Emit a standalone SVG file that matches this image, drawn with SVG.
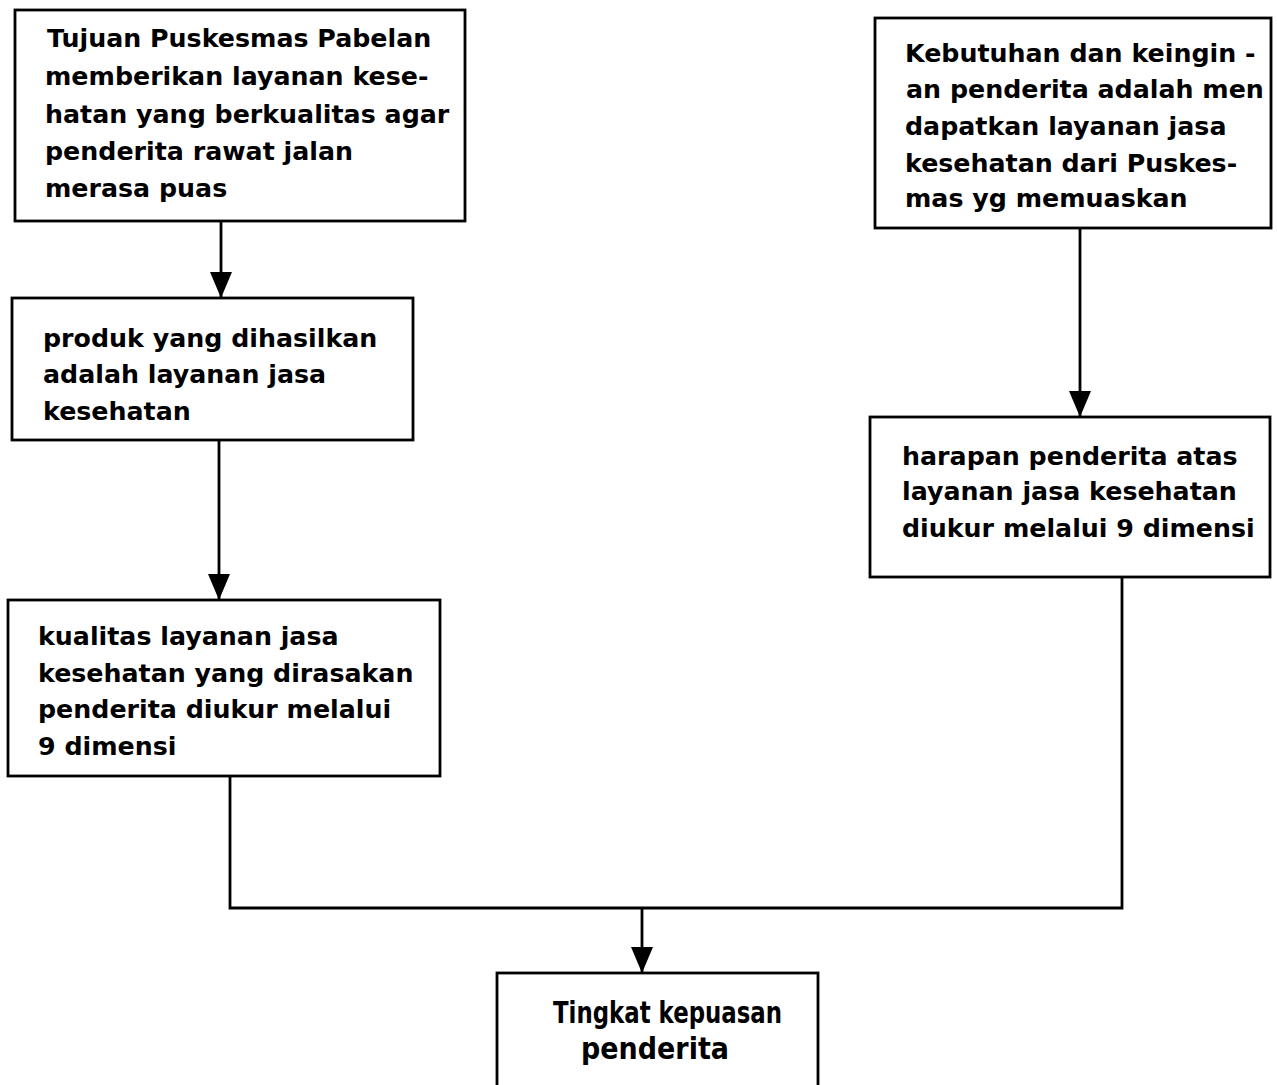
<svg xmlns="http://www.w3.org/2000/svg" width="1277" height="1085" viewBox="0 0 1277 1085">
<style>
.box{fill:#fff;stroke:#000;stroke-width:2.8}
.t{font-family:"DejaVu Sans","Liberation Sans",sans-serif;font-size:25.3px;font-weight:bold;fill:#000}
.tc{font-family:"DejaVu Sans","Liberation Sans",sans-serif;font-size:30px;font-weight:bold;fill:#000}
.c{fill:none;stroke:#000;stroke-width:2.8}
</style>
<defs>
<marker id="ah" viewBox="0 -11 26 22" markerWidth="26" markerHeight="22" refX="26" refY="0" markerUnits="userSpaceOnUse" orient="auto">
<path d="M0,-11 L26,0 L0,11 z" fill="#000"/>
</marker>
</defs>
<rect width="1277" height="1085" fill="#fff"/>
<g id="connectors">
<line class="c" x1="221" y1="221" x2="221" y2="298" marker-end="url(#ah)"/>
<line class="c" x1="219" y1="440" x2="219" y2="600" marker-end="url(#ah)"/>
<line class="c" x1="1080" y1="228" x2="1080" y2="417" marker-end="url(#ah)"/>
<polyline class="c" points="230,776 230,908 1122,908 1122,577"/>
<line class="c" x1="642" y1="908" x2="642" y2="973" marker-end="url(#ah)"/>
</g>
<g id="n1">
<rect class="box" x="15" y="10" width="450" height="211"/>
<text class="t"><tspan x="47" y="47">Tujuan Puskesmas Pabelan</tspan><tspan x="45" y="85">memberikan layanan kese-</tspan><tspan x="45" y="123">hatan yang berkualitas agar</tspan><tspan x="45" y="160">penderita rawat jalan</tspan><tspan x="45" y="197">merasa puas</tspan></text>
</g>
<g id="n2">
<rect class="box" x="875" y="18" width="396" height="210"/>
<text class="t"><tspan x="905" y="62">Kebutuhan dan keingin -</tspan><tspan x="906" y="98">an penderita adalah men</tspan><tspan x="905" y="135">dapatkan layanan jasa</tspan><tspan x="905" y="172">kesehatan dari Puskes-</tspan><tspan x="905" y="207">mas yg memuaskan</tspan></text>
</g>
<g id="n3">
<rect class="box" x="12" y="298" width="401" height="142"/>
<text class="t"><tspan x="43" y="347">produk yang dihasilkan</tspan><tspan x="43" y="383">adalah layanan jasa</tspan><tspan x="43" y="420">kesehatan</tspan></text>
</g>
<g id="n4">
<rect class="box" x="8" y="600" width="432" height="176"/>
<text class="t"><tspan x="38" y="645">kualitas layanan jasa</tspan><tspan x="38" y="682">kesehatan yang dirasakan</tspan><tspan x="38" y="718">penderita diukur melalui</tspan><tspan x="38" y="755">9 dimensi</tspan></text>
</g>
<g id="n5">
<rect class="box" x="870" y="417" width="400" height="160"/>
<text class="t"><tspan x="902" y="465">harapan penderita atas</tspan><tspan x="902" y="500">layanan jasa kesehatan</tspan><tspan x="902" y="537">diukur melalui 9 dimensi</tspan></text>
</g>
<g id="n6">
<rect class="box" x="497" y="973" width="321" height="130"/>
<text class="tc" x="553" y="1023" textLength="229" lengthAdjust="spacingAndGlyphs">Tingkat kepuasan</text>
<text class="tc" x="581" y="1059" textLength="148" lengthAdjust="spacingAndGlyphs">penderita</text>
</g>
</svg>
